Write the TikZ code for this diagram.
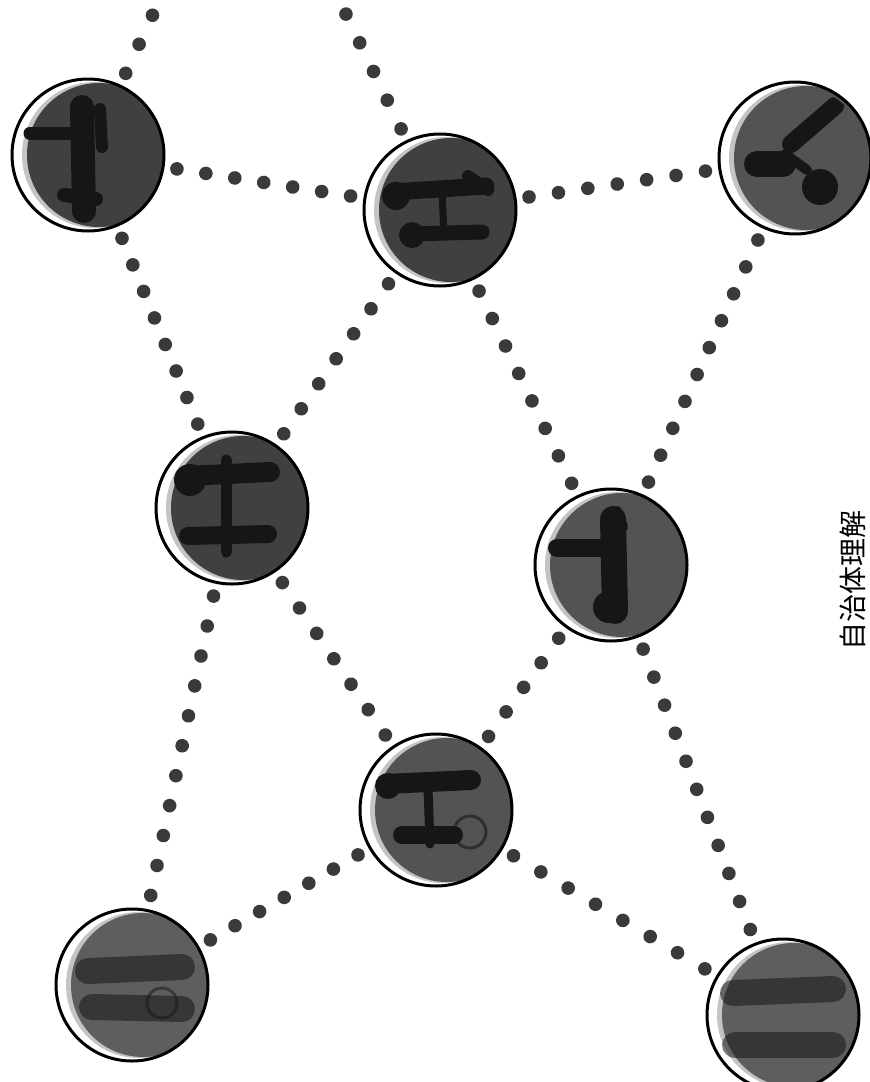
\documentclass[tikz,border=0pt]{standalone}
\usepackage{fontspec}
\newfontfamily\jpfont{Noto Sans CJK JP}
\usetikzlibrary{decorations.markings}
\definecolor{dotcol}{HTML}{3A3A3A}
\definecolor{blobcol}{HTML}{161616}
\definecolor{sdark}{HTML}{404040}
\definecolor{smid}{HTML}{535353}
\definecolor{slight}{HTML}{5E5E5E}
\definecolor{crescentgray}{HTML}{C4C4C4}
\begin{document}
\begin{tikzpicture}[x=1pt,y=-1pt,
  sphere/.style={circle, minimum size=152pt, inner sep=0pt, outer sep=14pt,
    fill=white, draw=black, line width=3pt,
    path picture={
      \fill[crescentgray] ([xshift=7pt]path picture bounding box.center) circle (73pt);
      \fill[#1] ([xshift=11pt]path picture bounding box.center) circle (72pt);
    }},
  dotline/.style={decoration={markings,
      mark=between positions 0 and 1 step #1 with {\fill[dotcol] (0,0) circle (6.8pt);}},
    decorate},
  blob/.style={draw=blobcol, line cap=round, line join=round},
  soft/.style={blob, opacity=0.55},
]
\useasboundingbox (0,0) rectangle (870,1082);
\clip (0,0) rectangle (870,1082);
\fill[white] (0,0) rectangle (870,1082);

% spheres
\node[sphere=sdark]  (A) at (88,155)  {};
\node[sphere=sdark]  (B) at (440,210) {};
\node[sphere=smid]   (C) at (795,158) {};
\node[sphere=sdark]  (D) at (232,508) {};
\node[sphere=smid]   (E) at (611,565) {};
\node[sphere=smid]   (F) at (436,810) {};
\node[sphere=slight] (G) at (132,985) {};
\node[sphere=slight] (H) at (783,1015) {};

% free ends above the top edge
\coordinate (tA) at (166,-14);
\coordinate (tB) at (332,-15);

% dotted connectors
\path[dotline=0.3328] (A) -- (tA);
\path[dotline=0.1995] (B) -- (tB);
\path[dotline=0.1662] (A) -- (B);
\path[dotline=0.1662] (B) -- (C);
\path[dotline=0.1424] (A) -- (D);
\path[dotline=0.1662] (B) -- (D);
\path[dotline=0.1424] (B) -- (E);
\path[dotline=0.1107] (C) -- (E);
\path[dotline=0.1662] (D) -- (F);
\path[dotline=0.2495] (E) -- (F);
\path[dotline=0.0995] (D) -- (G);
\path[dotline=0.0995] (E) -- (H);
\path[dotline=0.1662] (F) -- (G);
\path[dotline=0.1424] (F) -- (H);

% dark glyph-like shapes inside the spheres
\begin{scope}[shift={(A.center)}]
  \clip (0,0) circle (72pt);
  \draw[blob, line width=24pt] (-6,-48) -- (-4,56);
  \draw[blob, line width=13pt] (-58,-22) -- (-12,-22);
  \draw[blob, line width=12pt] (12,-46) -- (14,-8);
  \draw[blob, line width=14pt] (-24,40) -- (8,44);
\end{scope}
\begin{scope}[shift={(B.center)}]
  \clip (0,0) circle (72pt);
  \draw[blob, line width=17pt] (-48,-18) -- (46,-24);
  \fill[blobcol] (-44,-14) circle (14pt);
  \draw[blob, line width=12pt] (28,-34) -- (48,-20);
  \draw[blob, line width=15pt] (-30,24) -- (42,22);
  \fill[blobcol] (-28,25) circle (13pt);
  \draw[blob, line width=7pt] (2,-18) -- (4,24);
\end{scope}
\begin{scope}[shift={(C.center)}]
  \clip (0,0) circle (72pt);
  \draw[blob, line width=18pt] (40,-52) -- (-4,-14);
  \draw[blob, line width=12pt] (22,-40) -- (44,-54);
  \draw[blob, line width=26pt] (-38,6) -- (-12,6);
  \draw[blob, line width=10pt] (-10,-4) -- (12,12);
  \fill[blobcol] (25,29) circle (18pt);
\end{scope}
\begin{scope}[shift={(D.center)}]
  \clip (0,0) circle (72pt);
  \draw[blob, line width=20pt] (-46,-32) -- (38,-36);
  \draw[blob, line width=18pt] (-44,28) -- (36,26);
  \draw[blob, line width=11pt] (-6,-48) -- (-6,44);
  \fill[blobcol] (-42,-28) circle (16pt);
\end{scope}
\begin{scope}[shift={(E.center)}]
  \clip (0,0) circle (72pt);
  \draw[blob, line width=26pt] (2,-46) -- (4,46);
  \draw[blob, line width=18pt] (-54,-17) -- (-8,-17);
  \draw[blob, line width=10pt] (6,-54) -- (12,-38);
  \fill[blobcol] (-2,42) circle (16pt);
\end{scope}
\begin{scope}[shift={(F.center)}]
  \clip (0,0) circle (72pt);
  \draw[blob, line width=20pt] (-50,-26) -- (35,-30);
  \fill[blobcol] (-48,-24) circle (13pt);
  \draw[blob, line width=18pt] (-34,25) -- (18,25);
  \draw[blob, line width=9pt] (-8,-22) -- (-6,34);
  \draw[blobcol, line width=3pt, opacity=0.6] (34,22) circle (16pt);
\end{scope}
\begin{scope}[shift={(G.center)}]
  \clip (0,0) circle (72pt);
  \draw[soft, line width=26pt] (-44,-14) -- (50,-18);
  \draw[soft, line width=26pt] (-40,22) -- (50,24);
  \draw[blobcol, line width=3pt, opacity=0.5] (30,18) circle (15pt);
\end{scope}
\begin{scope}[shift={(H.center)}]
  \clip (0,0) circle (72pt);
  \draw[soft, line width=26pt] (-50,-22) -- (50,-26);
  \draw[soft, line width=26pt] (-48,30) -- (50,30);
\end{scope}

% caption on the right edge
\node[rotate=90, inner sep=0pt, font=\jpfont\fontsize{28}{28}\selectfont] (cap) at (853,580) {自治体理解};
\end{tikzpicture}
\end{document}
